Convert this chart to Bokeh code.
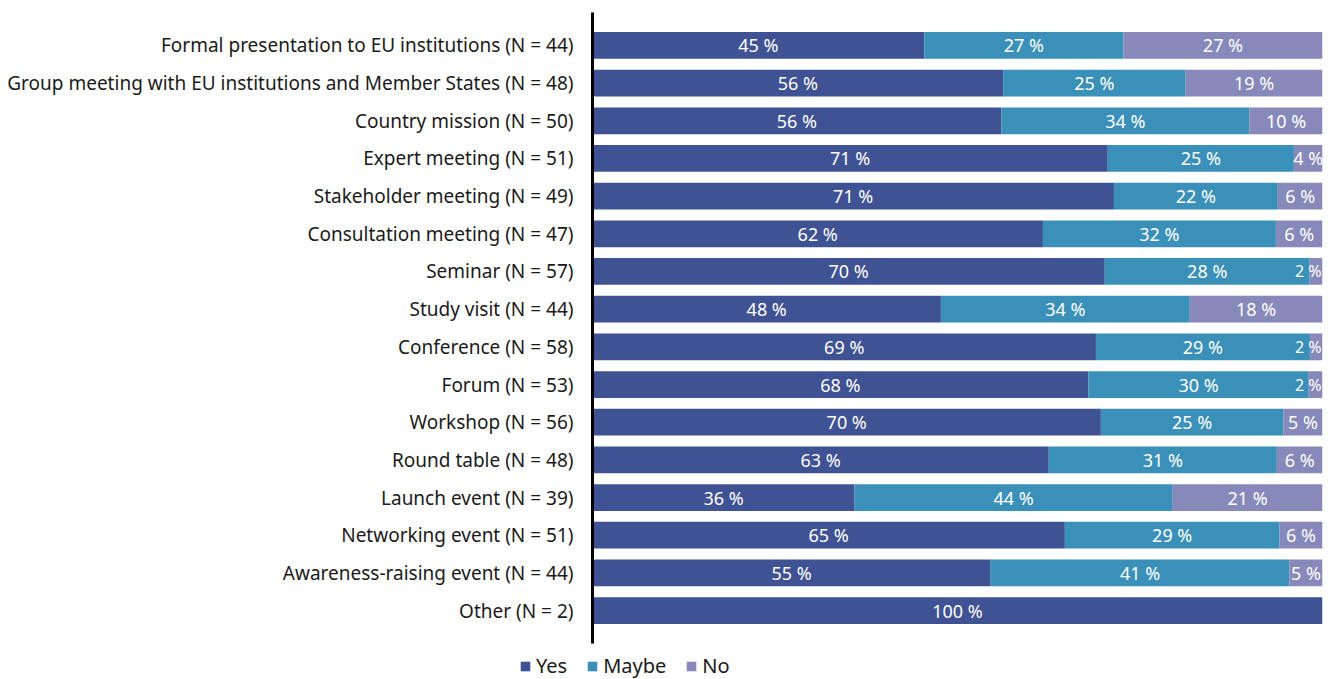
from bokeh.plotting import figure
from bokeh.layouts import column
from bokeh.models import ColumnDataSource, FactorRange, Legend, LegendItem, Range1d
from bokeh.core.properties import value
from bokeh.embed import file_html
from bokeh.resources import INLINE
import math

categories = [
    "Formal presentation to EU institutions (N = 44)",
    "Group meeting with EU institutions and Member States (N = 48)",
    "Country mission (N = 50)",
    "Expert meeting (N = 51)",
    "Stakeholder meeting (N = 49)",
    "Consultation meeting (N = 47)",
    "Seminar (N = 57)",
    "Study visit (N = 44)",
    "Conference (N = 58)",
    "Forum (N = 53)",
    "Workshop (N = 56)",
    "Round table (N = 48)",
    "Launch event (N = 39)",
    "Networking event (N = 51)",
    "Awareness-raising event (N = 44)",
    "Other (N = 2)",
]
n_total = [44, 48, 50, 51, 49, 47, 57, 44, 58, 53, 56, 48, 39, 51, 44, 2]
yes_counts = [20, 27, 28, 36, 35, 29, 40, 21, 40, 36, 39, 30, 14, 33, 24, 2]
maybe_counts = [12, 12, 17, 13, 11, 15, 16, 15, 17, 16, 14, 15, 17, 15, 18, 0]
no_counts = [12, 9, 5, 2, 3, 3, 1, 8, 1, 1, 3, 3, 8, 3, 2, 0]

series = ["Yes", "Maybe", "No"]
colors = ["#3F5293", "#3A90B8", "#8789BA"]

yes = [y / n * 100 for y, n in zip(yes_counts, n_total)]
maybe = [m / n * 100 for m, n in zip(maybe_counts, n_total)]
no = [o / n * 100 for o, n in zip(no_counts, n_total)]

def lab(v):
    return "%d %%" % math.floor(v + 0.5)

src = ColumnDataSource(dict(cat=categories, Yes=yes, Maybe=maybe, No=no))

FONT = "Noto Sans"

p = figure(
    y_range=FactorRange(factors=list(reversed(categories)), range_padding=0.375,
                        range_padding_units="absolute"),
    x_range=Range1d(0, 100),
    width=1337, height=650,
    output_backend="svg", toolbar_location=None,
    min_border_left=592, min_border_right=15, min_border_top=12, min_border_bottom=7,
)
p.frame_align = False
p.outline_line_color = None
p.grid.visible = False
p.xaxis.visible = False

renderers = p.hbar_stack(series, y="cat", height=0.71, color=colors, source=src,
                         line_color=None)

# segment labels (centred; very narrow end segments are kept inside the bar end)
cx, cy, ct = [], [], []
rx, ry, rt = [], [], []
for i, c in enumerate(categories):
    segs = [yes[i], maybe[i], no[i]]
    start = 0.0
    for v in segs:
        if v > 0:
            if v < 3:
                rx.append(start + v)
                ry.append(c)
                rt.append(lab(v))
            else:
                cx.append(start + v / 2)
                cy.append(c)
                ct.append(lab(v))
        start += v
p.text(x=cx, y=cy, text=ct, text_align="center", text_baseline="middle",
       text_color="white", text_font=value(FONT), text_font_size="18px")
p.text(x=rx, y=ry, text=rt, text_align="right", text_baseline="middle",
       text_color="white", text_font=value(FONT), text_font_size="16px", x_offset=-1)

yax = p.yaxis[0]
yax.axis_line_width = 3
yax.axis_line_color = "black"
yax.major_tick_line_color = None
yax.minor_tick_line_color = None
yax.major_label_standoff = 13
yax.major_label_text_font = FONT
yax.major_label_text_font_size = "19px"
yax.major_label_text_color = "#1a1a1a"

# legend strip below the chart
p2 = figure(width=1337, height=29, x_range=Range1d(0, 1), y_range=Range1d(0, 1),
            output_backend="svg", toolbar_location=None,
            min_border_left=0, min_border_right=0, min_border_top=0, min_border_bottom=0)
p2.frame_align = False
p2.outline_line_color = None
p2.grid.visible = False
p2.axis.visible = False
dummies = [p2.quad(left=[5], right=[6], top=[5], bottom=[6], color=c, line_color=None)
           for c in colors]
legend = Legend(
    items=[LegendItem(label=s, renderers=[r]) for s, r in zip(series, dummies)],
    orientation="horizontal",
    location=(519, 0),
    glyph_width=12, glyph_height=12,
    label_text_font=FONT, label_text_font_size="20px", label_text_color="#1a1a1a",
    border_line_color=None, background_fill_alpha=0,
    spacing=19, padding=0, margin=0, label_standoff=5,
)
p2.add_layout(legend, "center")

layout = column(p, p2, spacing=0)
open("out.html", "w").write(file_html(layout, INLINE))
